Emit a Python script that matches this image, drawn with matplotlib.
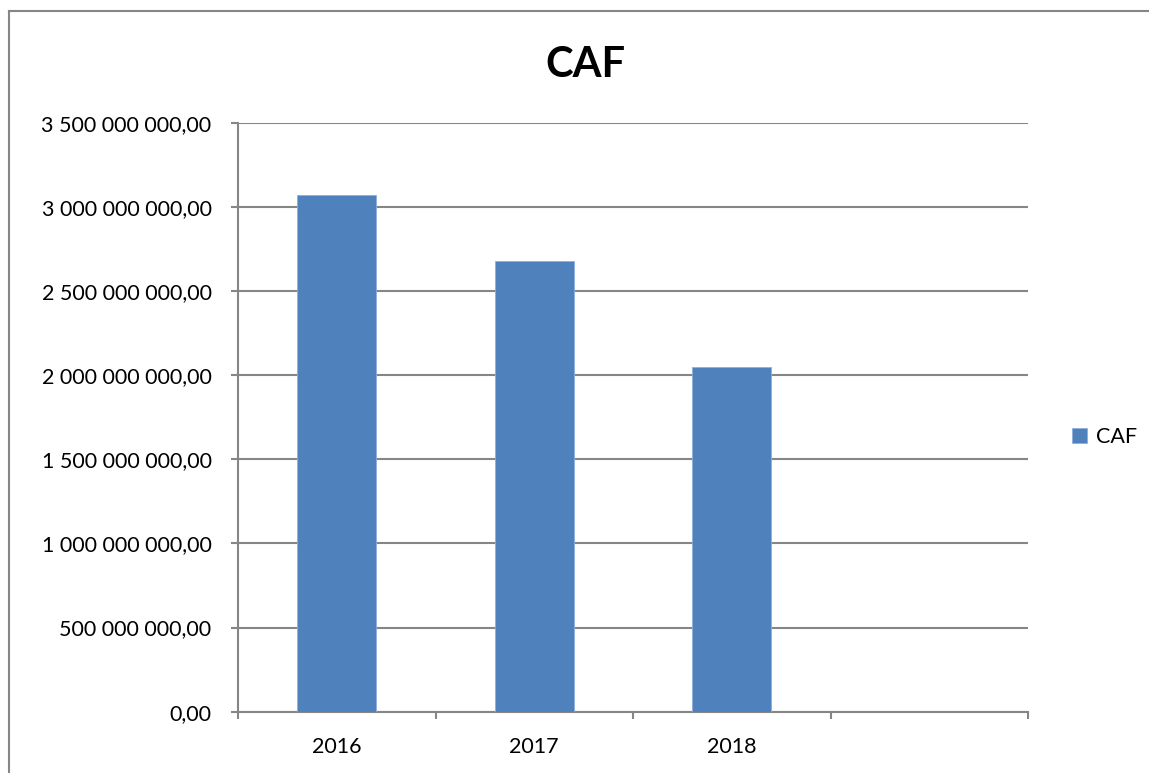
import matplotlib
matplotlib.use("Agg")
import matplotlib.pyplot as plt
from matplotlib.lines import Line2D
from matplotlib.ticker import FuncFormatter, MultipleLocator, FixedLocator

categories = ["2016", "2017", "2018", ""]
caf_values = [3.071e9, 2.677e9, 2.048e9]
series_name = "CAF"
title = "CAF"

plt.rcParams['font.family'] = ['Lato', 'DejaVu Sans']

W, H = 1149, 773
fig = plt.figure(figsize=(W / 100, H / 100), dpi=100)
left, right, top, bottom = 238, 1028, 122.7, 711.7
ax = fig.add_axes([left / W, 1 - bottom / H, (right - left) / W, (bottom - top) / H])

grey = "#868686"
x = list(range(len(caf_values)))
bars = ax.bar(x, caf_values, width=0.4, color="#4F81BD", edgecolor="#8eaedb",
              linewidth=0.6, label=series_name, zorder=3)

ax.set_xlim(-0.5, len(categories) - 0.5)
ax.set_ylim(0, 3.5e9)
ax.yaxis.set_major_locator(MultipleLocator(5e8))

def fmt(v, pos):
    return f"{v:,.2f}".replace(",", " ").replace(".", ",")
ax.yaxis.set_major_formatter(FuncFormatter(fmt))

ax.set_xticks(range(len(categories)))
ax.set_xticklabels(categories)
ax.xaxis.set_minor_locator(FixedLocator([i - 0.5 for i in range(len(categories) + 1)]))
ax.tick_params(axis='x', which='major', length=0, pad=18, labelsize=15.5)
ax.tick_params(axis='x', which='minor', length=5, width=1.5, color=grey, direction='out')
ax.tick_params(axis='y', which='major', length=5, width=1.5, color=grey, direction='out',
               pad=14, labelsize=15.5)

ax.grid(axis='y', color=grey, linewidth=1.5, zorder=0)
for s in ['top', 'right']:
    ax.spines[s].set_visible(False)
for s in ['left', 'bottom']:
    ax.spines[s].set_color(grey)
    ax.spines[s].set_linewidth(1.5)

fig.text(585 / W, 1 - 65 / H, title, ha='center', va='center', fontsize=30, fontweight='bold')

leg = fig.legend(handles=[bars], labels=[series_name], loc='center left',
                 bbox_to_anchor=(1053 / W, 1 - 437 / H), frameon=False,
                 fontsize=15.5, handlelength=0.7, handleheight=0.7, handletextpad=0.4)

# outer chart border
fig.add_artist(Line2D([9 / W, 9 / W], [0, 1 - 11 / H], transform=fig.transFigure, color=grey, lw=1.5))
fig.add_artist(Line2D([9 / W, 1], [1 - 11 / H, 1 - 11 / H], transform=fig.transFigure, color=grey, lw=1.5))

fig.savefig("out.png", dpi=100)
